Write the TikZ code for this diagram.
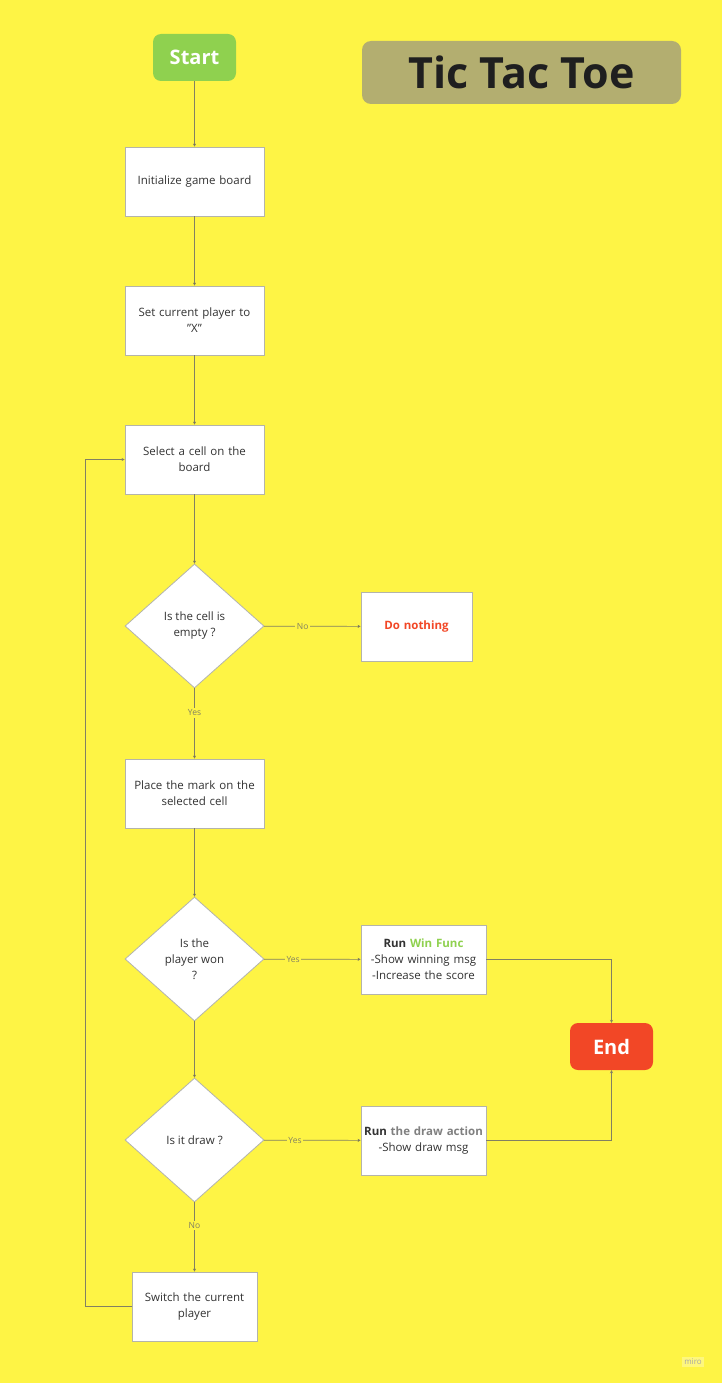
\documentclass[tikz,border=0pt]{standalone}
\usepackage{fontspec}
\setmainfont{Open Sans}
\usepackage{tikz}
\usetikzlibrary{shapes.geometric,arrows.meta}

\definecolor{miroyellow}{RGB}{254,244,69}
\definecolor{mirogreen}{RGB}{143,209,79}
\definecolor{mirored}{RGB}{242,71,38}
\definecolor{titleolive}{RGB}{179,174,112}
\definecolor{linegray}{RGB}{130,128,98}
\definecolor{boxgray}{RGB}{180,180,170}
\definecolor{textgray}{RGB}{50,50,50}

\tikzset{
  box/.style={draw=boxgray, fill=white, line width=0.9pt, minimum width=139pt, minimum height=69pt,
    inner sep=0pt, align=center, text width=136pt, text=textgray, font=\fontsize{11.5}{16}\selectfont},
  decision/.style={diamond, draw=boxgray, fill=white, line width=0.8pt, minimum width=139pt,
    minimum height=124pt, inner sep=0pt, aspect=1.12, align=center, text=textgray,
    font=\fontsize{11.5}{16}\selectfont},
  terminal/.style={rounded corners=8pt, minimum width=83pt, minimum height=47pt, text=white,
    font=\fontsize{20}{22}\selectfont\bfseries},
  flow/.style={draw=linegray, line width=0.7pt, -{Stealth[length=3pt,width=3pt]}},
  answer/.style={fill=miroyellow, inner sep=1.5pt, text=linegray, font=\fontsize{8.5}{9}\selectfont},
}

\begin{document}
\begin{tikzpicture}[x=1pt,y=-1pt]
  \fill[miroyellow] (0,0) rectangle (722,1383);
  \useasboundingbox (0,0) rectangle (722,1383);

  \draw (521.5,72.5) node[fill=titleolive, rounded corners=9pt, minimum width=319pt, minimum height=63pt,
    text=black!88, font=\fontsize{43}{46}\selectfont\bfseries] (title) {Tic Tac Toe};

  \draw (194.5,57.5) node[terminal, fill=mirogreen] (start) {Start};
  \draw (194.5,181.5) node[box] (init) {Initialize game board};
  \draw (194.5,320.5) node[box] (setx) {Set current player to\\\symbol{34}X\symbol{34}};
  \draw (194.5,459.5) node[box] (select) {Select a cell on the\\board};
  \draw (194.5,626) node[decision] (empty) {Is the cell is\\empty ?};
  \draw (416.5,626.5) node[box, minimum width=111pt, text width=108pt, text=mirored, font=\fontsize{11.5}{16}\selectfont\bfseries] (nothing) {Do nothing};
  \draw (194.5,793.5) node[box] (place) {Place the mark on the\\selected cell};
  \draw (194.5,959) node[decision] (won) {Is the\\player won\\?};
  \draw (423.5,959.5) node[box, minimum width=125pt, text width=124pt] (winfunc)
    {\textbf{Run \textcolor{mirogreen}{Win Func}}\\-Show winning msg\\-Increase the score};
  \draw (611.5,1046.5) node[terminal, fill=mirored] (end) {End};
  \draw (194.5,1140) node[decision] (isdraw) {Is it draw ?};
  \draw (423.5,1140.5) node[box, minimum width=125pt, text width=124pt] (drawact)
    {\textbf{Run \textcolor{gray}{the draw action}}\\-Show draw msg};
  \draw (194.5,1306.5) node[box, minimum width=125pt, text width=124pt] (switch) {Switch the current\\player};
  \coordinate (loop) at (85,1306.5);

  \draw (693,1362) node[fill=white!30!miroyellow, text=gray!70, inner sep=2.5pt,
    font=\fontsize{8}{9}\selectfont] (miro) {miro};

  \path[flow] (start) edge (init);
  \path[flow] (init) edge (setx);
  \path[flow] (setx) edge (select);
  \path[flow] (select) edge (empty);
  \path[flow] (empty) edge node[answer, pos=0.4] {No} (nothing);
  \path[flow] (empty) edge node[answer, pos=0.35] {Yes} (place);
  \path[flow] (place) edge (won);
  \path[flow] (won) edge node[answer, pos=0.3] {Yes} (winfunc);
  \path[flow] (won) edge (isdraw);
  \path[flow] (isdraw) edge node[answer, pos=0.32] {Yes} (drawact);
  \path[flow] (isdraw) edge node[answer, pos=0.33] {No} (switch);
  \draw[flow] (winfunc) -| (end);
  \draw[flow] (drawact) -| (end);
  \draw[flow] (switch) -- (loop) |- (select);

\end{tikzpicture}
\end{document}
